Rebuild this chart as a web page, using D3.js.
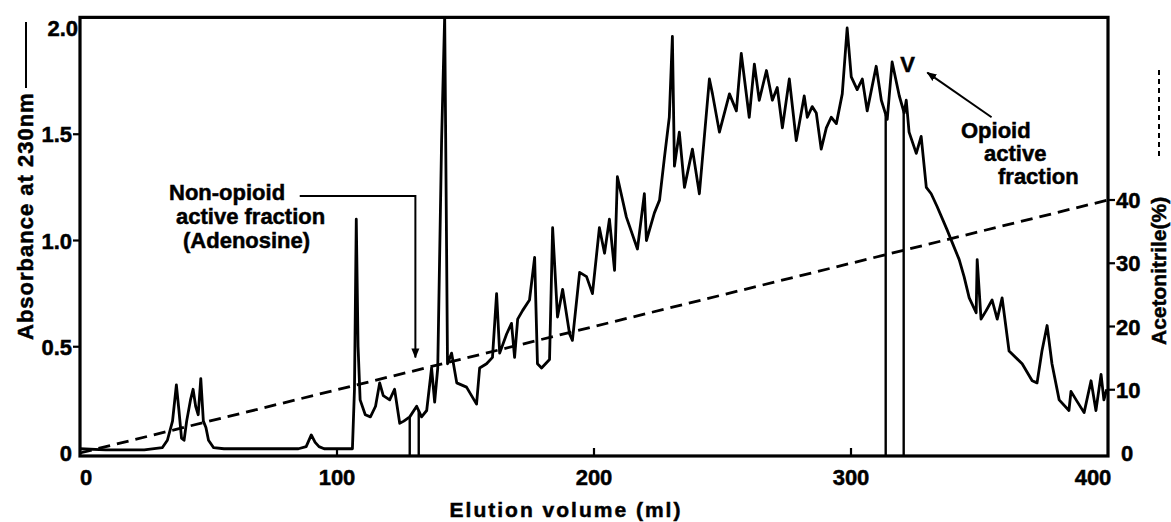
<!DOCTYPE html>
<html>
<head>
<meta charset="utf-8">
<script src="https://cdn.jsdelivr.net/npm/d3@7"></script>
<style>
  body { margin: 0; background: #fff; }
  svg text { font-family: "Liberation Sans", Arial, sans-serif; font-weight: bold; fill: #000;
             stroke: #000; stroke-width: 0.5; }
</style>
</head>
<body>
<svg id="chart" width="1171" height="522"></svg>
<script>
// elution volume (ml) and absorbance at 230nm
var elutionMl = [0, 10, 25, 32, 34, 36, 37.5, 38.5, 39.5, 40.5, 41.5, 43, 44, 45, 46, 47, 48, 49, 50, 52, 56,
  70, 85, 88, 90, 91.5, 93, 95, 100, 106, 106.8, 107.5, 108.2, 109, 111, 113, 115, 116.6, 118, 120.5,
  122.4, 124.4, 126, 128.3, 131, 132.9, 134.9, 136.8, 138, 139.2, 140.7, 141.9, 143, 144.6, 146.6,
  150.4, 154.3, 155.5, 158.2, 160.5, 162.1, 163.3, 166, 167.9, 169.1, 170.3, 172.2, 174.9, 176.9,
  178, 179.6, 182.7, 183.9, 185.8, 187.8, 190.5, 191.6, 194.4, 197.1, 199.4, 202.1, 204.1, 206, 208,
  209.1, 212.6, 216.9, 219.6, 220.4, 223.5, 225.5, 227.4, 229.3, 230.5, 231.3, 233.2, 235.2, 238.3,
  241, 244.9, 246.1, 248.8, 252.7, 255.4, 257.3, 260.4, 262.4, 264.3, 267.1, 269.4, 271.3, 273.3,
  276, 278.7, 281.8, 283, 284.9, 286.5, 288.4, 290.4, 292.3, 294.3, 296.6, 298.5, 300.1, 302.4,
  304.4, 306.3, 309.8, 311.8, 314.1, 316, 318.8, 320.7, 321.5, 322.6, 325.4, 327.3, 329.3, 331.2,
  333.5, 337.4, 339.4, 342.1, 344, 346, 348.7, 349.1, 350.6, 352.6, 354.9, 356.9, 358.8, 361.5,
  366.6, 370.5, 372.4, 374.3, 376.3, 378.2, 381, 384.8, 385.6, 387.6, 390.7, 393.4, 395.3, 397.3,
  398.4, 399.5];
var absorbance = [0.02, 0.015, 0.015, 0.025, 0.06, 0.15, 0.32, 0.2, 0.07, 0.06, 0.15, 0.25, 0.3, 0.22, 0.18, 0.35, 0.15, 0.12, 0.06, 0.025, 0.02,
  0.02, 0.02, 0.03, 0.085, 0.05, 0.03, 0.02, 0.02, 0.02, 0.3, 1.1, 0.5, 0.25, 0.18, 0.17, 0.22, 0.33, 0.27, 0.25,
  0.30, 0.14, 0.15, 0.17, 0.22, 0.17, 0.20, 0.40, 0.24, 0.40, 1.47, 2.06, 0.42, 0.47, 0.33,
  0.31, 0.23, 0.40, 0.42, 0.45, 0.75, 0.47, 0.56, 0.61, 0.45, 0.63, 0.67, 0.72, 0.92,
  0.42, 0.40, 0.44, 1.06, 0.64, 0.77, 0.56, 0.53, 0.85, 0.83, 0.75, 1.06, 0.94, 1.10, 0.86,
  1.30, 1.11, 0.96, 1.22, 1.00, 1.13, 1.19, 1.39, 1.58, 1.96, 1.35, 1.51, 1.25, 1.43,
  1.22, 1.76, 1.69, 1.51, 1.69, 1.61, 1.88, 1.58, 1.83, 1.66, 1.80, 1.66, 1.72, 1.53,
  1.76, 1.47, 1.68, 1.58, 1.63, 1.60, 1.43, 1.53, 1.58, 1.55, 1.69, 2.00, 1.77, 1.71,
  1.76, 1.61, 1.82, 1.66, 1.57, 1.84, 1.68, 1.60, 1.66, 1.51, 1.41, 1.49, 1.25, 1.22,
  1.16, 1.05, 0.99, 0.91, 0.83, 0.73, 0.66, 0.91, 0.63, 0.67, 0.72, 0.63, 0.73, 0.48,
  0.42, 0.34, 0.33, 0.48, 0.60, 0.42, 0.25, 0.20, 0.29, 0.25, 0.19, 0.34, 0.20, 0.37,
  0.25, 0.30];

// acetonitrile gradient (%)
var gradientMl = [0, 400];
var gradientPct = [0, 40];

// collected fraction borders (ml)
var fractionMl = [128.3, 131.8, 313.5, 320.5];

var xTicks = [0, 100, 200, 300, 400];
var yTicks = [0, 0.5, 1.0, 1.5, 2.0];
var yTickLabels = ["0", "0.5", "1.0", "1.5", "2.0"];
var y2Ticks = [0, 10, 20, 30, 40];

var svg = d3.select("#chart");
var x = d3.scaleLinear().domain([0, 400]).range([80, 1108]);
var y = d3.scaleLinear().domain([0, 2]).range([453, 28]);
var y2 = d3.scaleLinear().domain([0, 40]).range([453, 200]);

var plotTop = y(2.05), plotBottom = y(-0.014);

var defs = svg.append("defs");
defs.append("clipPath").attr("id", "plot-clip")
    .append("rect")
    .attr("x", x(0)).attr("y", plotTop)
    .attr("width", x(400) - x(0)).attr("height", plotBottom - plotTop);
defs.append("marker")
    .attr("id", "head")
    .attr("viewBox", "0 0 10 10")
    .attr("refX", 9).attr("refY", 5)
    .attr("markerWidth", 5).attr("markerHeight", 5)
    .attr("orient", "auto")
    .append("path")
    .attr("d", "M0,1 L10,5 L0,9 Z")
    .attr("fill", "#000");

// frame
svg.append("rect")
    .attr("x", x(0)).attr("y", plotTop)
    .attr("width", x(400) - x(0)).attr("height", plotBottom - plotTop)
    .attr("fill", "none").attr("stroke", "#000").attr("stroke-width", 3.2);

// absorbance trace
var pts = elutionMl.map(function(v, i) { return [v, absorbance[i]]; });
var line = d3.line().x(function(d) { return x(d[0]); }).y(function(d) { return y(d[1]); });
svg.append("path")
    .datum(pts)
    .attr("clip-path", "url(#plot-clip)")
    .attr("d", line)
    .attr("fill", "none").attr("stroke", "#000").attr("stroke-width", 2.8)
    .attr("stroke-linejoin", "round");

// fraction markers down to baseline
var absAt = d3.scaleLinear().domain(elutionMl).range(absorbance);
svg.selectAll(".frac").data(fractionMl).enter().append("line")
    .attr("class", "frac")
    .attr("x1", function(d) { return x(d); }).attr("x2", function(d) { return x(d); })
    .attr("y1", plotBottom).attr("y2", function(d) { return y(absAt(d)); })
    .attr("stroke", "#000").attr("stroke-width", 2.4);

// gradient (dashed)
svg.append("line")
    .attr("x1", x(gradientMl[0])).attr("y1", y2(gradientPct[0]))
    .attr("x2", x(gradientMl[1])).attr("y2", y2(gradientPct[1]))
    .attr("stroke", "#000").attr("stroke-width", 2.8)
    .attr("stroke-dasharray", "12,7");

// bottom axis: ticks point inward
svg.selectAll(".xt").data(xTicks.slice(1, 4)).enter().append("line")
    .attr("x1", function(d) { return x(d); }).attr("x2", function(d) { return x(d); })
    .attr("y1", plotBottom).attr("y2", plotBottom - 8)
    .attr("stroke", "#000").attr("stroke-width", 2.2);
svg.selectAll(".xl").data(xTicks).enter().append("text")
    .attr("x", function(d) { return x(d) + (d == 0 ? 6 : d == 400 ? -15 : 0); })
    .attr("y", 485)
    .attr("text-anchor", "middle")
    .attr("font-size", 22)
    .text(function(d) { return d; });

// left axis
svg.selectAll(".yt").data(yTicks.slice(1, 4)).enter().append("line")
    .attr("x1", x(0) - 7).attr("x2", x(0))
    .attr("y1", function(d) { return y(d); }).attr("y2", function(d) { return y(d); })
    .attr("stroke", "#000").attr("stroke-width", 2.2);
svg.selectAll(".yl").data(yTicks).enter().append("text")
    .attr("x", function(d) { return d == 2 ? x(0) - 2 : x(0) - 8; })
    .attr("y", function(d) { return y(d) + 8; })
    .attr("text-anchor", "end")
    .attr("font-size", 22)
    .text(function(d, i) { return yTickLabels[i]; });

// right axis
svg.selectAll(".y2t").data(y2Ticks.slice(1)).enter().append("line")
    .attr("x1", x(400)).attr("x2", x(400) + 7)
    .attr("y1", function(d) { return y2(d); }).attr("y2", function(d) { return y2(d); })
    .attr("stroke", "#000").attr("stroke-width", 2.2);
svg.selectAll(".y2l").data(y2Ticks).enter().append("text")
    .attr("x", function(d) { return d == 0 ? x(400) + 13 : x(400) + 8; })
    .attr("y", function(d) { return y2(d) + 8; })
    .attr("text-anchor", "start")
    .attr("font-size", 22)
    .text(function(d) { return d; });

// axis titles
svg.append("text")
    .attr("x", 566).attr("y", 517)
    .attr("text-anchor", "middle")
    .attr("font-size", 21)
    .attr("letter-spacing", 2)
    .text("Elution volume (ml)");

svg.append("text")
    .attr("transform", "translate(33,340) rotate(-90)")
    .attr("text-anchor", "start")
    .attr("font-size", 22)
    .attr("letter-spacing", 1)
    .text("Absorbance at 230nm");
svg.append("line")
    .attr("x1", 26).attr("x2", 26).attr("y1", 22).attr("y2", 88)
    .attr("stroke", "#000").attr("stroke-width", 2);

svg.append("text")
    .attr("transform", "translate(1166,345) rotate(-90)")
    .attr("text-anchor", "start")
    .attr("font-size", 21)
    .text("Acetonitrile(%)");
svg.append("line")
    .attr("x1", 1159).attr("x2", 1159).attr("y1", 70).attr("y2", 160)
    .attr("stroke", "#000").attr("stroke-width", 2)
    .attr("stroke-dasharray", "5,4");

// annotation: non-opioid fraction
var nonOpioid = ["Non-opioid", "active fraction", "(Adenosine)"];
var nonOpioidX = [169, 176, 183];
svg.selectAll(".nl").data(nonOpioid).enter().append("text")
    .attr("x", function(d, i) { return nonOpioidX[i]; })
    .attr("y", function(d, i) { return 200 + i * 24; })
    .attr("font-size", 22)
    .text(function(d) { return d; });
svg.append("path")
    .attr("d", "M" + x(85.5) + "," + y(1.21) + " H" + x(130.5) + " V" + y(0.45))
    .attr("fill", "none").attr("stroke", "#000").attr("stroke-width", 2)
    .attr("marker-end", "url(#head)");

// annotation: opioid fraction
var opioid = ["Opioid", "active", "fraction"];
var opioidX = [961, 984, 998];
svg.selectAll(".ol").data(opioid).enter().append("text")
    .attr("x", function(d, i) { return opioidX[i]; })
    .attr("y", function(d, i) { return 138 + i * 23; })
    .attr("font-size", 22)
    .text(function(d) { return d; });
svg.append("text")
    .attr("x", x(322)).attr("y", y(1.83) + 8)
    .attr("text-anchor", "middle")
    .attr("font-size", 22)
    .text("V");
svg.append("line")
    .attr("x1", x(354.7)).attr("y1", y(1.58))
    .attr("x2", x(329.7)).attr("y2", y(1.79))
    .attr("stroke", "#000").attr("stroke-width", 2)
    .attr("marker-end", "url(#head)");
</script>
</body>
</html>
